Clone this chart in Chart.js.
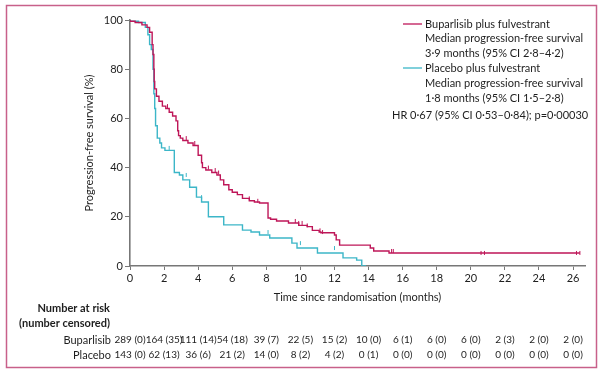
<!DOCTYPE html>
<html>
<head>
<meta charset="utf-8">
<script src="https://cdn.jsdelivr.net/npm/chart.js@4"></script>
<style>
html,body{margin:0;padding:0;background:#fff;}
#wrap{width:604px;height:378px;position:relative;}
</style>
</head>
<body>
<div id="wrap"><canvas id="c" width="604" height="378"></canvas></div>
<script>
// ---- data ----
const bupTimes = [0,0.3,0.7,1.0,1.15,1.3,1.35,1.4,1.42,1.45,1.55,1.7,1.9,2.1,2.3,2.5,2.7,2.8,2.85,2.95,3.1,3.4,3.7,4.0,4.2,4.25,4.45,4.8,5.1,5.3,5.5,5.8,6.0,6.3,6.6,7.0,7.3,7.6,8.1,8.25,8.6,9.3,9.9,10.4,10.7,11.1,11.2,12.0,12.1,12.3,14.1,14.3,15.2,20.1,26.4];
const bupSurv  = [100,99.5,99,98,97,95,90,86,80,75,72,69,67,65,64,62.5,61,59,55,53,52,51,50,49,45,42,40,39,38,37,35,33,31,30,29,27.5,26.5,26,25.6,19.5,19,18.3,17.5,16.5,16,14.5,13.8,13.5,12.6,10.6,8.5,7.3,6.1,5.3,5.3];
const plaTimes = [0,0.5,0.9,1.05,1.15,1.25,1.35,1.4,1.45,1.5,1.6,1.75,1.85,2.05,2.6,2.9,3.1,3.5,3.9,4.2,4.6,5.5,6.6,7.1,7.6,8.2,9.5,9.8,11.0,12.5,13.3,13.6,13.85];
const plaSurv  = [100,99.5,99,97,94,90,88,80,70,64,57,52,50,48,47,38,37,35,32,28,26,20,16.7,14.6,13.8,12.6,11.4,9.3,7.3,5.3,3.3,2.4,0];
const bupCensorTimes = [2.2,3.3,3.8,4.6,5.0,5.2,7.0,7.5,9.7,9.9,10.1,10.4,11.15,11.3,15.35,15.45,20.6,20.8,26.2,26.4];
const plaCensorTimes = [2.3,3.3,4.2,8.1,10.0,12.0];
const xTicks = [0,2,4,6,8,10,12,14,16,18,20,22,24,26];
const yTicks = [0,20,40,60,80,100];
const bupAtRisk = [289,164,111,54,39,22,15,10,6,6,6,2,2,2];
const bupCensored = [0,35,14,18,7,5,2,0,1,0,0,3,0,0];
const plaAtRisk = [143,62,36,21,14,8,4,0,0,0,0,0,0,0];
const plaCensored = [0,13,6,2,0,2,2,1,0,0,0,0,0,0];
const legendLines = [
  "Buparlisib plus fulvestrant",
  "Median progression-free survival",
  "3·9 months (95% CI 2·8–4·2)",
  "Placebo plus fulvestrant",
  "Median progression-free survival",
  "1·8 months (95% CI 1·5–2·8)",
  "HR 0·67 (95% CI 0·53–0·84); p=0·00030"
];

// ---- styles ----
const RED = '#be1658';
const CYAN = '#3cb6c8';
const AXIS = '#777777';
const TXT = '#1e1e1e';
const FONT = "'Lato', sans-serif";

function pts(t, s){ return t.map((v,i)=>({x:v,y:s[i]})); }
function survAt(t, s, x){ let v=s[0]; for(let i=0;i<t.length;i++){ if(t[i]<=x) v=s[i]; } return v; }
function censorPts(times, t, s){ return times.map(x=>({x:x,y:survAt(t,s,x)})); }

const overlay = {
  id:'overlay',
  beforeDraw(chart){
    const ctx=chart.ctx;
    ctx.save(); ctx.fillStyle='#fff'; ctx.fillRect(0,0,chart.width,chart.height); ctx.restore();
  },
  afterDraw(chart){
    const ctx=chart.ctx; const xs=chart.scales.x;
    ctx.save();
    // frame
    ctx.strokeStyle='#c8608a'; ctx.lineWidth=1.5;
    ctx.strokeRect(6.5,5.5,590,362);
    // legend
    ctx.font="11px "+FONT; ctx.fillStyle=TXT; ctx.textBaseline='middle'; ctx.textAlign='left';
    const ly=[24,38,53,68,83,98,115];
    legendLines.forEach((s,i)=>{
      const x = (i===6)?392:425;
      ctx.fillText(s,x,ly[i]);
    });
    ctx.lineWidth=1.3;
    ctx.strokeStyle=RED; ctx.beginPath(); ctx.moveTo(403,24); ctx.lineTo(422,24); ctx.stroke();
    ctx.strokeStyle=CYAN; ctx.beginPath(); ctx.moveTo(403,68); ctx.lineTo(422,68); ctx.stroke();
    // number at risk
    ctx.textAlign='right'; ctx.font="bold 11px "+FONT; ctx.fillStyle=TXT;
    ctx.fillText("Number at risk",110,308);
    ctx.fillText("(number censored)",110,323);
    ctx.font="11px "+FONT;
    ctx.fillText("Buparlisib",111,340);
    ctx.fillText("Placebo",111,355);
    ctx.textAlign='center'; ctx.font="10px "+FONT;
    xTicks.forEach((v,i)=>{
      const px=xs.getPixelForValue(v);
      ctx.fillText(bupAtRisk[i]+" ("+bupCensored[i]+")",px,340);
      ctx.fillText(plaAtRisk[i]+" ("+plaCensored[i]+")",px,355);
    });
    ctx.restore();
  }
};

new Chart(document.getElementById('c'),{
  type:'line',
  data:{
    datasets:[
      {label:'Buparlisib plus fulvestrant',data:pts(bupTimes,bupSurv),borderColor:RED,borderWidth:1.4,stepped:'after',pointRadius:0,fill:false},
      {label:'Placebo plus fulvestrant',data:pts(plaTimes,plaSurv),borderColor:CYAN,borderWidth:1.4,stepped:'after',pointRadius:0,fill:false},
      {label:'bc',data:censorPts(bupCensorTimes,bupTimes,bupSurv),showLine:false,pointStyle:'line',rotation:90,pointRadius:2,borderColor:RED,borderWidth:1,pointHoverRadius:0},
      {label:'pc',data:censorPts(plaCensorTimes,plaTimes,plaSurv),showLine:false,pointStyle:'line',rotation:90,pointRadius:2,borderColor:CYAN,borderWidth:1,pointHoverRadius:0}
    ]
  },
  options:{
    responsive:false, animation:false, devicePixelRatio:1,
    layout:{padding:{left:78,right:19,top:20,bottom:70}},
    plugins:{legend:{display:false},tooltip:{enabled:false}},
    scales:{
      x:{type:'linear',min:0,max:26.7,
        afterBuildTicks:s=>{s.ticks=xTicks.map(v=>({value:v}));},
        afterFit:s=>{s.height=42;},
        grid:{drawOnChartArea:false,tickLength:4,color:AXIS,tickWidth:1},
        border:{color:AXIS,width:1.6},
        ticks:{padding:2,color:TXT,font:{family:FONT,size:11},maxRotation:0,autoSkip:false},
        title:{display:true,text:'Time since randomisation (months)',color:TXT,font:{family:FONT,size:11},padding:{top:0,bottom:4}}
      },
      y:{min:0,max:100,
        afterBuildTicks:s=>{s.ticks=yTicks.map(v=>({value:v}));},
        afterFit:s=>{s.width=52;},
        grid:{drawOnChartArea:false,tickLength:5,color:AXIS,tickWidth:1},
        border:{color:AXIS,width:1.6},
        ticks:{padding:2,color:TXT,font:{family:FONT,size:11}},
        title:{display:true,text:'Progression-free survival (%)',color:TXT,font:{family:FONT,size:11},padding:{top:5,bottom:0}}
      }
    }
  },
  plugins:[overlay]
});
</script>
</body>
</html>
